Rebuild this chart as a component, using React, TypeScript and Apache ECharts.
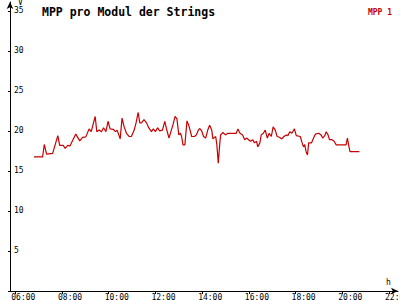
import React, { useEffect, useRef } from "react";
import * as echarts from "echarts";

const TITLE = "MPP pro Modul der Strings";
const SERIES_NAME = "MPP 1";
const X_TICKS = [6, 8, 10, 12, 14, 16, 18, 20, 22];
const Y_LABELS = [5, 10, 15, 20, 25, 30, 35];
const Y_TICKS = [0, 5, 10, 15, 20, 25, 30, 35];

const hours = [
  6.8, 7.17, 7.24, 7.34, 7.6, 7.82, 7.9, 8.05, 8.14, 8.24, 8.34, 8.59, 8.76, 8.88, 9.02, 9.16,
  9.25, 9.42, 9.49, 9.59, 9.69, 9.78, 9.88, 9.97, 10.06, 10.19, 10.29, 10.36, 10.43, 10.49,
  10.57, 10.66, 10.76, 10.87, 10.97, 11.09, 11.17, 11.26, 11.33, 11.4, 11.51, 11.62, 11.71,
  11.83, 11.91, 12.0, 12.09, 12.18, 12.3, 12.4, 12.47, 12.58, 12.68, 12.75, 12.84, 12.92, 13.0,
  13.07, 13.12, 13.18, 13.26, 13.35, 13.42, 13.5, 13.55, 13.67, 13.75, 13.84, 13.89, 13.98,
  14.06, 14.15, 14.24, 14.32, 14.41, 14.46, 14.58, 14.63, 14.69, 14.75, 14.79, 14.89, 15.0,
  15.1, 15.3, 15.46, 15.53, 15.62, 15.73, 15.82, 15.9, 15.99, 16.07, 16.17, 16.24, 16.33,
  16.38, 16.47, 16.53, 16.62, 16.7, 16.79, 16.87, 16.96, 17.04, 17.13, 17.21, 17.31, 17.41,
  17.5, 17.6, 17.67, 17.75, 17.84, 17.95, 18.03, 18.2, 18.28, 18.34, 18.39, 18.45, 18.51,
  18.56, 18.68, 18.77, 18.85, 18.99, 19.09, 19.16, 19.25, 19.31, 19.39, 19.45, 19.56, 19.65,
  19.74, 20.16, 20.22, 20.27, 20.33, 20.73,
];

const values = [
  16.75, 16.75, 18.3, 17.1, 17.2, 19.4, 18.2, 18.2, 17.8, 18.2, 18.1, 19.6, 18.75, 19.2, 19.25,
  20.25, 19.9, 21.8, 19.9, 20.1, 19.9, 20.4, 19.9, 21.2, 20.25, 20.2, 19.9, 20.1, 19.5, 19.0,
  21.6, 20.5, 19.7, 19.3, 19.3, 20.1, 21.0, 22.3, 21.0, 21.0, 21.4, 21.0, 20.4, 19.9, 20.25,
  19.9, 20.4, 20.0, 20.1, 21.2, 20.3, 19.1, 20.1, 20.75, 21.8, 21.5, 19.5, 19.7, 19.3, 18.25,
  18.25, 21.25, 20.75, 19.9, 19.3, 19.3, 19.5, 20.1, 20.3, 20.0, 19.3, 19.1, 20.1, 20.7, 20.1,
  19.0, 19.3, 18.25, 15.95, 18.25, 19.5, 19.8, 19.5, 19.7, 19.7, 19.7, 20.25, 19.7, 19.5, 18.9,
  19.1, 18.9, 18.7, 18.9, 18.5, 18.7, 18.0, 18.5, 19.5, 19.7, 20.1, 19.1, 19.7, 19.3, 20.5,
  20.1, 19.3, 19.2, 19.0, 19.3, 19.5, 19.4, 19.9, 19.7, 20.25, 19.4, 19.3, 18.5, 18.0, 18.3,
  17.4, 17.0, 18.5, 18.5, 19.1, 19.6, 19.7, 19.5, 19.1, 19.4, 19.9, 19.5, 18.9, 18.9, 18.7,
  18.25, 18.25, 19.1, 18.25, 17.4, 17.4,
];

const RED = "#c80000";
const FONT = "DejaVu Sans Mono";

function fmtHour(v: number): string {
  const h = Math.round(v);
  return (h < 10 ? "0" : "") + h + ":00";
}

export default function App() {
  const ref = useRef<HTMLDivElement>(null);
  useEffect(() => {
    if (!ref.current) return;
    const chart = echarts.init(ref.current, null, { renderer: "svg" });
    const data = hours.map((h, i) => [h, values[i]]);
    chart.setOption({
      animation: false,
      backgroundColor: "#ffffff",
      title: {
        text: TITLE,
        left: 37,
        top: 1,
        textStyle: { fontFamily: FONT, fontWeight: "bold", fontSize: 11.5, color: "#000" },
      },
      legend: {
        right: 3,
        top: 0,
        icon: "none",
        itemWidth: 0,
        itemGap: 0,
        data: [SERIES_NAME],
        textStyle: { fontFamily: FONT, fontSize: 8, color: RED, fontWeight: "bold" },
      },
      grid: { left: 10, right: 2, top: 2, bottom: 9, containLabel: false, outerBoundsMode: "none" },
      xAxis: {
        type: "value",
        min: 5.773,
        max: 22.385,
        name: "h",
        nameLocation: "end",
        nameGap: -12,
        nameTextStyle: {
          fontFamily: FONT,
          fontSize: 8,
          color: "#000",
          align: "left",
          verticalAlign: "bottom",
          padding: [0, 0, 5, 0],
        },
        splitLine: { show: false },
        axisLine: {
          lineStyle: { color: "#000", width: 1 },
          symbol: ["none", "arrow"],
          symbolSize: [5, 7],
        },
        axisTick: {
          customValues: X_TICKS,
          length: 3,
          lineStyle: { color: "#000" },
        },
        axisLabel: {
          customValues: X_TICKS,
          formatter: (v: number) => fmtHour(v),
          fontFamily: FONT,
          fontSize: 8,
          color: "#000",
          margin: 2,
          align: "left",
          padding: [0, 0, 0, -4],
        },
      },
      yAxis: {
        type: "value",
        min: 0,
        max: 36.1,
        name: "V",
        nameLocation: "end",
        nameGap: -2,
        nameTextStyle: {
          fontFamily: FONT,
          fontSize: 8,
          color: "#000",
          align: "left",
          verticalAlign: "middle",
          padding: [0, 0, 0, 8],
        },
        splitLine: { show: false },
        axisLine: {
          lineStyle: { color: "#000", width: 1 },
          symbol: ["none", "arrow"],
          symbolSize: [5, 7],
        },
        axisTick: {
          customValues: Y_TICKS,
          length: 2,
          lineStyle: { color: "#000" },
        },
        axisLabel: {
          customValues: Y_LABELS,
          inside: true,
          margin: 4,
          fontFamily: FONT,
          fontSize: 8,
          color: "#000",
        },
      },
      series: [
        {
          name: SERIES_NAME,
          type: "line",
          data,
          showSymbol: false,
          color: RED,
          lineStyle: { color: RED, width: 1.2 },
        },
      ],
    });
    return () => chart.dispose();
  }, []);
  return (
    <div
      ref={ref}
      style={{ position: "fixed", left: 0, top: 0, width: 400, height: 300, background: "#fff" }}
    />
  );
}
